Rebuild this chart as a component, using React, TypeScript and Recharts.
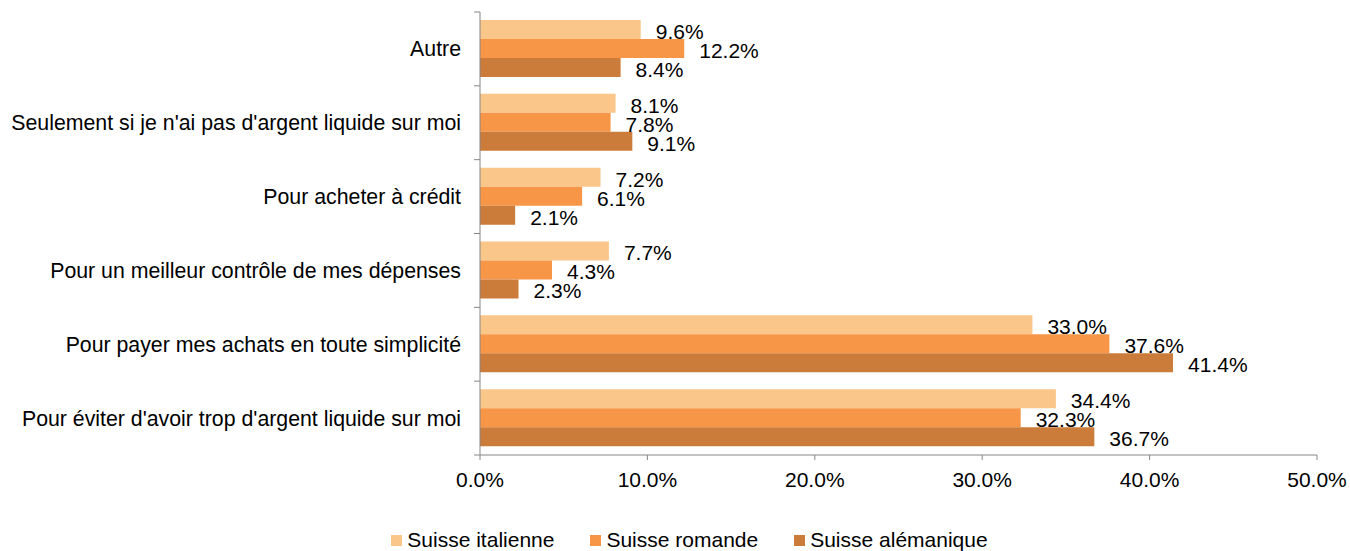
import { BarChart, Bar, XAxis, YAxis, Legend, LabelList } from 'recharts'

const categories = [
  'Autre',
  "Seulement si je n'ai pas d'argent liquide sur moi",
  'Pour acheter à crédit',
  'Pour un meilleur contrôle de mes dépenses',
  'Pour payer mes achats en toute simplicité',
  "Pour éviter d'avoir trop d'argent liquide sur moi"
]
const italienne = [9.6, 8.1, 7.2, 7.7, 33.0, 34.4]
const romande = [12.2, 7.8, 6.1, 4.3, 37.6, 32.3]
const alemanique = [8.4, 9.1, 2.1, 2.3, 41.4, 36.7]
const xTicks = [0, 10, 20, 30, 40, 50]

const SERIES = [
  { key: 'italienne', name: 'Suisse italienne', color: '#FAC68A' },
  { key: 'romande', name: 'Suisse romande', color: '#F79646' },
  { key: 'alemanique', name: 'Suisse alémanique', color: '#CB7B3A' }
]

const data = categories.map((label, i) => ({
  label,
  italienne: italienne[i],
  romande: romande[i],
  alemanique: alemanique[i]
}))

const FONT = "'Liberation Sans', Arial, sans-serif"
const FS = 21
const AXIS = '#868686'
const HEIGHT = 551
const TOP = 12
const PLOT_BOTTOM = 455
const BAND = (PLOT_BOTTOM - TOP) / categories.length

const pct = (v: number) => `${v.toFixed(1)}%`

function CategoryTick(props: any) {
  const { x, y, payload, index } = props
  return (
    <g>
      <line x1={x - 6} x2={x} y1={y - BAND / 2} y2={y - BAND / 2} stroke={AXIS} />
      {index === categories.length - 1 && (
        <line x1={x - 6} x2={x} y1={y + BAND / 2} y2={y + BAND / 2} stroke={AXIS} />
      )}
      <text x={x - 19} y={y} dy='0.35em' textAnchor='end' fill='#000' fontSize={21.3} fontFamily={FONT}>
        {payload.value}
      </text>
    </g>
  )
}

function LegendRow() {
  return (
    <div
      style={{
        display: 'flex',
        justifyContent: 'center',
        gap: 36,
        fontFamily: FONT,
        fontSize: FS,
        lineHeight: '24px',
        color: '#000',
        paddingLeft: 62,
        transform: 'translateY(1px)'
      }}
    >
      {SERIES.map((s) => (
        <span key={s.key} style={{ display: 'flex', alignItems: 'center' }}>
          <span style={{ width: 11, height: 11, background: s.color, marginRight: 5, display: 'inline-block' }} />
          {s.name}
        </span>
      ))}
    </div>
  )
}

export default function App() {
  return (
    <div style={{ position: 'absolute', left: 0, top: 0, background: '#fff' }}>
      <BarChart
        width={1350}
        height={HEIGHT}
        data={data}
        layout='vertical'
        margin={{ top: TOP, right: 33, bottom: 0, left: 0 }}
        barSize={19}
        barGap={0}
      >
        <XAxis
          type='number'
          domain={[0, 50]}
          ticks={xTicks}
          tickFormatter={pct}
          height={72}
          axisLine={{ stroke: AXIS }}
          tickLine={{ stroke: AXIS }}
          tickSize={5}
          tickMargin={12}
          tick={{ fill: '#000', fontSize: FS, fontFamily: FONT }}
        />
        <YAxis
          type='category'
          dataKey='label'
          width={480}
          axisLine={{ stroke: AXIS }}
          tickLine={false}
          tickSize={0}
          tickMargin={0}
          tick={<CategoryTick />}
          interval={0}
        />
        <Legend verticalAlign='bottom' height={24} content={<LegendRow />} />
        {SERIES.map((s) => (
          <Bar key={s.key} dataKey={s.key} name={s.name} fill={s.color} isAnimationActive={false}>
            <LabelList
              dataKey={s.key}
              position='right'
              offset={15}
              formatter={(v: any) => pct(Number(v))}
              fill='#000'
              fontSize={FS}
              fontFamily={FONT}
              dy={2}
            />
          </Bar>
        ))}
      </BarChart>
    </div>
  )
}
